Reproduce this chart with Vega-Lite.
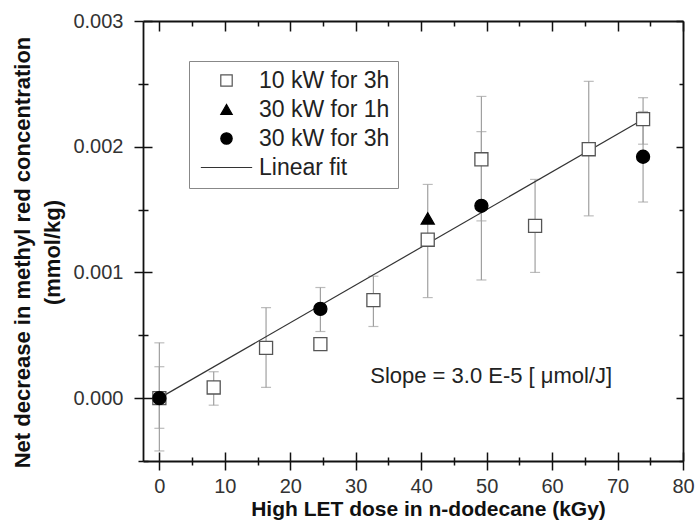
{
  "$schema": "https://vega.github.io/schema/vega-lite/v6.json",
  "width": 540,
  "height": 440,
  "autosize": {"type": "none"},
  "padding": {"left": 143, "top": 21, "right": 12, "bottom": 70},
  "background": "white",
  "config": {
    "view": {"stroke": null},
    "font": "Liberation Sans",
    "axis": {
      "labelFont": "Liberation Sans",
      "titleFont": "Liberation Sans",
      "domainColor": "#111",
      "tickColor": "#111",
      "labelColor": "#333",
      "titleColor": "#111",
      "grid": false,
      "domainWidth": 1.8,
      "tickWidth": 1.5,
      "labelFlush": false,
      "labelOverlap": false
    },
    "legend": {
      "title": null,
      "orient": "none",
      "legendX": 46,
      "legendY": 40,
      "labelFont": "Liberation Sans",
      "labelFontSize": 23,
      "labelColor": "#222",
      "strokeColor": "#888",
      "padding": 8,
      "rowPadding": 5,
      "symbolSize": 130,
      "symbolOffset": 18,
      "labelOffset": 21,
      "symbolStrokeWidth": 1.2
    }
  },
  "datasets": {
    "pts": [
      {"dose": 0, "value": 0, "lo": -0.00042, "hi": 0.00044, "series": "10 kW for 3h"},
      {"dose": 8.3, "value": 0.000085, "lo": -0.000056, "hi": 0.00021, "series": "10 kW for 3h"},
      {"dose": 16.3, "value": 0.0004, "lo": 0.000085, "hi": 0.00072, "series": "10 kW for 3h"},
      {"dose": 24.6, "value": 0.00043, "lo": 0.0004, "hi": 0.00046, "series": "10 kW for 3h"},
      {"dose": 32.7, "value": 0.00078, "lo": 0.00057, "hi": 0.00097, "series": "10 kW for 3h"},
      {"dose": 41.0, "value": 0.00126, "lo": 0.0008, "hi": 0.0017, "series": "10 kW for 3h"},
      {"dose": 49.2, "value": 0.0019, "lo": 0.00141, "hi": 0.0024, "series": "10 kW for 3h"},
      {"dose": 57.4, "value": 0.00137, "lo": 0.001, "hi": 0.00174, "series": "10 kW for 3h"},
      {"dose": 65.6, "value": 0.00198, "lo": 0.00145, "hi": 0.00252, "series": "10 kW for 3h"},
      {"dose": 73.9, "value": 0.00222, "lo": 0.00202, "hi": 0.00239, "series": "10 kW for 3h"},
      {"dose": 41.0, "value": 0.00143, "lo": null, "hi": null, "series": "30 kW for 1h"},
      {"dose": 0, "value": 0, "lo": -0.00024, "hi": 0.00025, "series": "30 kW for 3h"},
      {"dose": 24.6, "value": 0.00071, "lo": 0.00053, "hi": 0.00088, "series": "30 kW for 3h"},
      {"dose": 49.2, "value": 0.00153, "lo": 0.00094, "hi": 0.00212, "series": "30 kW for 3h"},
      {"dose": 73.9, "value": 0.00192, "lo": 0.00156, "hi": 0.00228, "series": "30 kW for 3h"}
    ],
    "fit": [
      {"dose": 0, "value": 0},
      {"dose": 74, "value": 0.00222}
    ],
    "note": [
      {"dose": 50.7, "value": 0.00018, "label": "Slope = 3.0 E-5 [ μmol/J]"}
    ]
  },
  "resolve": {"axis": {"x": "independent", "y": "independent"}},
  "layer": [
    {
      "data": {"name": "pts"},
      "mark": {"type": "rule", "color": "#a0a0a0", "strokeWidth": 1.2},
      "encoding": {
        "x": {
          "field": "dose", "type": "quantitative",
          "scale": {"domain": [-2.5, 80], "nice": false, "zero": false},
          "axis": {
            "orient": "bottom",
            "values": [0, 5, 10, 15, 20, 25, 30, 35, 40, 45, 50, 55, 60, 65, 70, 75, 80],
            "labelExpr": "datum.value % 10 === 0 ? datum.label : ''",
            "tickSize": {"expr": "datum.value % 10 === 0 ? 9 : 4"},
            "labelFontSize": 20,
            "labelPadding": 6,
            "title": "High LET dose in n-dodecane (kGy)",
            "titleFontSize": 21,
            "titleFontWeight": "bold",
            "titlePadding": 2,
            "titleX": 285,
            "titleAnchor": "middle"
          }
        },
        "y": {
          "field": "lo", "type": "quantitative",
          "scale": {"domain": [-0.0005, 0.003], "nice": false, "zero": false},
          "axis": {
            "orient": "left",
            "values": [-0.0005, 0, 0.0005, 0.001, 0.0015, 0.002, 0.0025, 0.003],
            "labelExpr": "abs(datum.value * 1000 - round(datum.value * 1000)) < 0.001 ? format(datum.value, '.3f') : ''",
            "tickSize": {"expr": "abs(datum.value * 1000 - round(datum.value * 1000)) < 0.001 ? 9 : 5"},
            "labelFontSize": 20,
            "labelPadding": 11,
            "title": ["Net decrease in methyl red concentration", "(mmol/kg)"],
            "titleFontSize": 22,
            "titleFontWeight": "bold",
            "titleLineHeight": 30,
            "titlePadding": 8,
            "titleY": 231
          }
        },
        "y2": {"field": "hi"}
      }
    },
    {
      "data": {"name": "pts"},
      "mark": {"type": "tick", "orient": "horizontal", "color": "#a0a0a0", "size": 10, "thickness": 1.2},
      "encoding": {
        "x": {
          "field": "dose", "type": "quantitative",
          "scale": {"domain": [-2.5, 80], "nice": false, "zero": false},
          "axis": {
            "orient": "bottom",
            "values": [0, 5, 10, 15, 20, 25, 30, 35, 40, 45, 50, 55, 60, 65, 70, 75, 80],
            "labels": false, "domain": false, "title": null,
            "tickSize": {"expr": "datum.value % 10 === 0 ? -9 : -4"}
          }
        },
        "y": {
          "field": "lo", "type": "quantitative",
          "scale": {"domain": [-0.0005, 0.003], "nice": false, "zero": false},
          "axis": {
            "orient": "left",
            "values": [-0.0005, 0, 0.0005, 0.001, 0.0015, 0.002, 0.0025, 0.003],
            "labels": false, "domain": false, "title": null,
            "tickSize": {"expr": "abs(datum.value * 1000 - round(datum.value * 1000)) < 0.001 ? -9 : -5"}
          }
        }
      }
    },
    {
      "data": {"name": "pts"},
      "mark": {"type": "tick", "orient": "horizontal", "color": "#a0a0a0", "size": 10, "thickness": 1.2},
      "encoding": {
        "x": {
          "field": "dose", "type": "quantitative",
          "scale": {"domain": [-2.5, 80], "nice": false, "zero": false},
          "axis": {
            "orient": "top",
            "values": [0, 5, 10, 15, 20, 25, 30, 35, 40, 45, 50, 55, 60, 65, 70, 75, 80],
            "labels": false, "title": null,
            "tickSize": {"expr": "datum.value % 10 === 0 ? -10 : -5"}
          }
        },
        "y": {
          "field": "hi", "type": "quantitative",
          "scale": {"domain": [-0.0005, 0.003], "nice": false, "zero": false},
          "axis": {
            "orient": "right",
            "values": [-0.0005, 0, 0.0005, 0.001, 0.0015, 0.002, 0.0025, 0.003],
            "labels": false, "title": null,
            "tickSize": {"expr": "abs(datum.value * 1000 - round(datum.value * 1000)) < 0.001 ? -7 : -4"}
          }
        }
      }
    },
    {
      "data": {"name": "fit"},
      "mark": {"type": "line", "color": "#333", "strokeWidth": 1.2},
      "encoding": {
        "x": {"field": "dose", "type": "quantitative", "scale": {"domain": [-2.5, 80], "nice": false, "zero": false}, "axis": null},
        "y": {"field": "value", "type": "quantitative", "scale": {"domain": [-0.0005, 0.003], "nice": false, "zero": false}, "axis": null}
      }
    },
    {
      "data": {"name": "pts"},
      "mark": {"type": "point", "size": 170, "strokeWidth": 1.3, "opacity": 1},
      "encoding": {
        "x": {"field": "dose", "type": "quantitative", "scale": {"domain": [-2.5, 80], "nice": false, "zero": false}, "axis": null},
        "y": {"field": "value", "type": "quantitative", "scale": {"domain": [-0.0005, 0.003], "nice": false, "zero": false}, "axis": null},
        "shape": {
          "field": "series", "type": "nominal",
          "scale": {"domain": ["10 kW for 3h", "30 kW for 1h", "30 kW for 3h", "Linear fit"], "range": ["square", "triangle-up", "circle", "M-4.5,0L4.5,0"]}
        },
        "fill": {
          "field": "series", "type": "nominal",
          "scale": {"domain": ["10 kW for 3h", "30 kW for 1h", "30 kW for 3h", "Linear fit"], "range": ["white", "black", "black", "#333"]}
        },
        "stroke": {
          "field": "series", "type": "nominal",
          "scale": {"domain": ["10 kW for 3h", "30 kW for 1h", "30 kW for 3h", "Linear fit"], "range": ["#555", "black", "black", "#333"]}
        }
      }
    },
    {
      "data": {"name": "note"},
      "mark": {"type": "text", "font": "Liberation Sans", "fontSize": 22, "color": "#222", "align": "center", "baseline": "middle"},
      "encoding": {
        "x": {"field": "dose", "type": "quantitative", "scale": {"domain": [-2.5, 80], "nice": false, "zero": false}, "axis": null},
        "y": {"field": "value", "type": "quantitative", "scale": {"domain": [-0.0005, 0.003], "nice": false, "zero": false}, "axis": null},
        "text": {"field": "label"}
      }
    }
  ]
}
